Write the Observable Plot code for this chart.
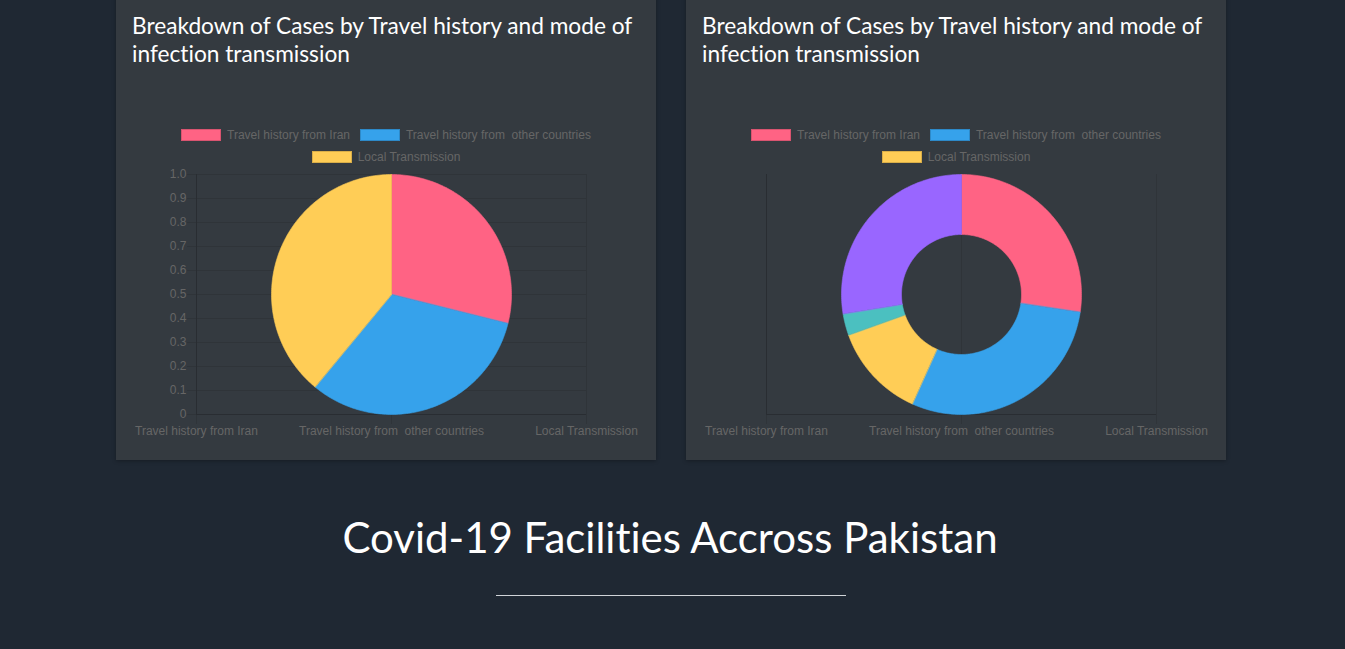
<!DOCTYPE html>
<html>
<head>
<meta charset="utf-8">
<script src="https://cdn.jsdelivr.net/npm/d3@7"></script>
<script src="https://cdn.jsdelivr.net/npm/@observablehq/plot@0.6"></script>
<style>
html,body{margin:0;padding:0;background:#1f2833;width:1345px;height:649px;overflow:hidden;position:relative;}
.card{position:absolute;top:-20px;width:540px;height:480px;background:#343a40;box-shadow:0 1px 4px rgba(0,0,0,0.3);}
.title{position:absolute;top:12px;width:530px;font-family:Lato,"Open Sans",sans-serif;font-size:22.7px;line-height:28px;color:#fff;font-variant-ligatures:none;}
.legend{position:absolute;top:129px;width:430px;display:flex;flex-wrap:wrap;justify-content:center;column-gap:10px;row-gap:10px;font-family:"Liberation Sans",Arial,sans-serif;font-size:12px;color:#666;}
.item{display:flex;align-items:center;height:12px;line-height:12px;}
.box{width:40px;height:12px;box-sizing:border-box;border:1px solid rgba(0,0,0,0.15);margin-right:6px;}
.lbl{white-space:pre;}
.chart{position:absolute;}
.chart svg text{white-space:pre;}
.heading{position:absolute;left:0;width:1340px;top:509px;text-align:center;font-family:Lato,sans-serif;font-size:42px;line-height:56px;color:#fff;font-variant-ligatures:none;}
.rule{position:absolute;left:496px;top:595px;width:350px;height:1px;background:#d0d4d8;}
</style>
</head>
<body>
<script>
// ---- data ----
const categories = ["Travel history from Iran", "Travel history from  other countries", "Local Transmission"];
const pieValues = [28.9, 32.1, 39.0];
const donutSlices = ["Travel history from Iran", "Travel history from  other countries", "Local Transmission", "slice 4", "slice 5"];
const donutValues = [27.4, 29.4, 12.8, 2.9, 27.6];
const sliceColors = ["#ff6384", "#36a2eb", "#ffcd56", "#4bc0c0", "#9966ff"];
const yTicks = [0, 0.1, 0.2, 0.3, 0.4, 0.5, 0.6, 0.7, 0.8, 0.9, 1.0];
const titleText = "Breakdown of Cases by Travel history and mode of infection transmission";
const headingText = "Covid-19 Facilities Accross Pakistan";

const gridColor = "#2f3439";
const zeroColor = "#292d32";

function el(tag, cls, parent, text) {
  const e = document.createElement(tag);
  if (cls) e.className = cls;
  if (text != null) e.textContent = text;
  (parent || document.body).appendChild(e);
  return e;
}

function arcRings(keys, values, innerR) {
  const arcs = d3.pie().sort(null).startAngle(0).endAngle(2 * Math.PI)(values);
  const pts = [];
  arcs.forEach((a, i) => {
    const key = keys[i];
    const n = Math.max(2, Math.ceil((a.endAngle - a.startAngle) / (Math.PI / 180)));
    for (let k = 0; k <= n; k++) {
      const t = a.startAngle + (a.endAngle - a.startAngle) * k / n;
      pts.push({key, x: Math.sin(t), y: Math.cos(t)});
    }
    if (innerR === 0) {
      pts.push({key, x: 0, y: 0});
    } else {
      for (let k = n; k >= 0; k--) {
        const t = a.startAngle + (a.endAngle - a.startAngle) * k / n;
        pts.push({key, x: innerR * Math.sin(t), y: innerR * Math.cos(t)});
      }
    }
  });
  return pts;
}

function axesPlot(showY) {
  const marks = [];
  if (showY) {
    marks.push(Plot.gridY(yTicks, {stroke: gridColor, strokeOpacity: 1}));
    marks.push(Plot.axisY(yTicks, {tickSize: 9, tickPadding: 1, stroke: gridColor, fill: "#666",
      tickFormat: d => d === 0 ? "0" : d.toFixed(1)}));
  }
  marks.push(Plot.gridX(categories, {stroke: gridColor, strokeOpacity: 1}));
  marks.push(Plot.axisX(categories, {tickSize: 10, tickPadding: 2, stroke: gridColor, fill: "#666"}));
  marks.push(Plot.ruleX([categories[0]], {stroke: zeroColor}));
  marks.push(Plot.ruleY([0], {stroke: zeroColor}));
  return Plot.plot({
    width: 540, height: 280,
    marginLeft: 80, marginRight: 70, marginTop: 10, marginBottom: 30,
    style: {background: "transparent", color: "#666", fontSize: "12px", fontFamily: "'Liberation Sans', Arial, sans-serif", overflow: "visible"},
    x: {type: "point", domain: categories, padding: 0, axis: null},
    y: {domain: [0, 1], axis: null},
    marks
  });
}

function piePlot(keys, values, innerR) {
  return Plot.plot({
    width: 240, height: 240,
    margin: 0,
    style: {background: "transparent", overflow: "visible"},
    x: {domain: [-1, 1], axis: null},
    y: {domain: [-1, 1], axis: null},
    color: {domain: keys, range: sliceColors.slice(0, keys.length)},
    marks: [
      Plot.line(arcRings(keys, values, innerR), {
        x: "x", y: "y", z: "key", fill: "key", stroke: "key", strokeWidth: 0.6, curve: "linear-closed"
      })
    ]
  });
}

function card(left, keys, values, innerR, showY) {
  const c = el("div", "card");
  c.style.left = left + "px";
  const t = el("div", "title", null, titleText);
  t.style.left = (left + 16) + "px";
  const lg = el("div", "legend");
  lg.style.left = (left + 270 - 215) + "px";
  categories.forEach((cat, i) => {
    const it = el("div", "item", lg);
    const b = el("div", "box", it);
    b.style.background = sliceColors[i];
    el("span", "lbl", it, cat);
  });
  const a = el("div", "chart");
  a.style.left = left + "px";
  a.style.top = "164px";
  a.appendChild(axesPlot(showY));
  const p = el("div", "chart");
  p.style.left = (left + 80 + 195 - 120) + "px";
  p.style.top = "174px";
  p.appendChild(piePlot(keys, values, innerR));
}

card(116, categories, pieValues, 0, true);
card(686, donutSlices, donutValues, 0.5, false);

el("div", "heading", null, headingText);
el("div", "rule");
</script>
</body>
</html>
